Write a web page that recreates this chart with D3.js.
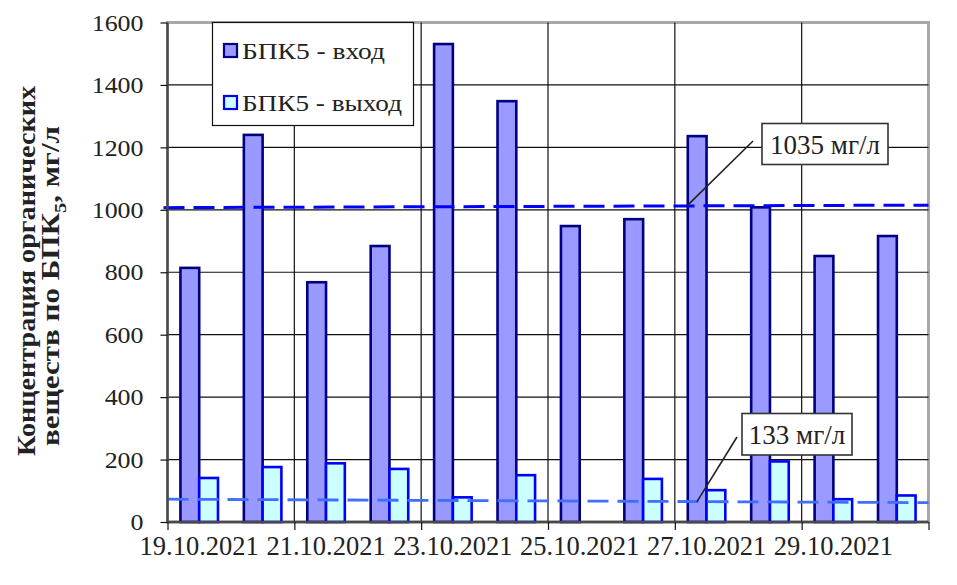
<!DOCTYPE html>
<html><head><meta charset="utf-8">
<script src="https://cdn.jsdelivr.net/npm/d3@7"></script>
<style>
body{margin:0;background:#fff}
svg{display:block}
text{font-family:"Liberation Serif","Times New Roman",Times,serif;fill:#222}
</style>
</head><body>
<svg id="c" width="957" height="585"></svg>
<script>
const dates = ["19.10.2021","20.10.2021","21.10.2021","22.10.2021","23.10.2021","24.10.2021",
               "25.10.2021","26.10.2021","27.10.2021","28.10.2021","29.10.2021","30.10.2021"];
const inputValues  = [814, 1240, 768, 884, 1531, 1348, 948, 970, 1236, 1008, 852, 916];
const outputValues = [141, 176, 188, 170, 79, 150, null, 138, 102, 194, 73, 85];
const yTicks = [0, 200, 400, 600, 800, 1000, 1200, 1400, 1600];
const xTickLabels = ["19.10.2021","21.10.2021","23.10.2021","25.10.2021","27.10.2021","29.10.2021"];
const seriesNames = ["БПК5 - вход", "БПК5 - выход"];
const trendInput  = [1007, 1015];   // values at left / right edge of plot
const trendOutput = [73, 62];
const annotationTexts = ["1035 мг/л", "133 мг/л"];
const yTitleLine1 = "Концентрация органических";
const yTitleLine2 = ["веществ по БПК", "5", ", мг/л"];

const svg = d3.select("#c");
const L = 167.5, R = 928.5, T = 22.5, B = 522;

const x = d3.scaleBand().domain(dates).range([L, R]).padding(0);
const step = x.bandwidth();
const barW = step * 0.296;
const y = d3.scaleLinear().domain([0, 1600]).range([B, T]);
const xi = d3.scaleLinear().domain([0, dates.length]).range([L, R]);

function stretch(sel, k) {
  sel.each(function () {
    const w = this.getComputedTextLength();
    d3.select(this).attr("textLength", w * k).attr("lengthAdjust", "spacingAndGlyphs");
  });
}

// plot border
svg.append("rect").attr("x", L).attr("y", T).attr("width", R - L).attr("height", B - T)
  .attr("fill", "#fff").attr("stroke", "#a8a8a8").attr("stroke-width", 3);

// horizontal gridlines
svg.append("g").selectAll("line").data(yTicks.filter(v => v > 0 && v < 1600)).join("line")
  .attr("x1", L).attr("x2", R).attr("y1", d => y(d)).attr("y2", d => y(d))
  .attr("stroke", "#111").attr("stroke-width", 1.2);

// vertical gridlines every 2 categories
const vIdx = d3.range(2, dates.length, 2);
svg.append("g").selectAll("line").data(vIdx).join("line")
  .attr("x1", d => xi(d)).attr("x2", d => xi(d)).attr("y1", T).attr("y2", B)
  .attr("stroke", "#111").attr("stroke-width", 1.2);

// bars
const g = svg.append("g");
dates.forEach((d, i) => {
  const x0 = x(d) + (step - 2 * barW) / 2;
  g.append("rect").attr("x", x0).attr("y", y(inputValues[i]))
    .attr("width", barW).attr("height", y(0) - y(inputValues[i]))
    .attr("fill", "#9999ff").attr("stroke", "#000080").attr("stroke-width", 2.6);
  if (outputValues[i] != null) {
    g.append("rect").attr("x", x0 + barW).attr("y", y(outputValues[i]))
      .attr("width", barW).attr("height", y(0) - y(outputValues[i]))
      .attr("fill", "#ccffff").attr("stroke", "#0000ff").attr("stroke-width", 2.6);
  }
});

// trend lines
svg.append("line").attr("x1", L - 4).attr("x2", R).attr("y1", y(trendInput[0])).attr("y2", y(trendInput[1]))
  .attr("stroke", "#0000ff").attr("stroke-width", 3).attr("stroke-dasharray", "21,9");
svg.append("line").attr("x1", L).attr("x2", R).attr("y1", y(trendOutput[0])).attr("y2", y(trendOutput[1]))
  .attr("stroke", "#3f6fff").attr("stroke-width", 2.8).attr("stroke-dasharray", "21,9");

// axes lines
svg.append("line").attr("x1", L).attr("x2", L).attr("y1", T).attr("y2", B)
  .attr("stroke", "#4a4a4a").attr("stroke-width", 2.4);
svg.append("line").attr("x1", L).attr("x2", R).attr("y1", B).attr("y2", B)
  .attr("stroke", "#4a4a4a").attr("stroke-width", 2.4);

// y axis
const ya = svg.append("g").attr("transform", `translate(${L},0)`)
  .call(d3.axisLeft(y).tickValues(yTicks).tickSize(7).tickPadding(17).tickFormat(d3.format("d")));
ya.select(".domain").remove();
ya.attr("font-family", null);
ya.selectAll(".tick line").attr("stroke", "#111").attr("stroke-width", 1.2);
ya.selectAll(".tick text").attr("font-size", 24).attr("fill", "#222");
stretch(ya.selectAll(".tick text"), 1.08);

// x axis ticks every 2 categories
const xa = svg.append("g").attr("transform", `translate(0,${B})`)
  .call(d3.axisBottom(xi).tickValues(d3.range(0, dates.length + 1, 2)).tickSize(8).tickFormat(""));
xa.select(".domain").remove();
xa.selectAll(".tick line").attr("stroke", "#111").attr("stroke-width", 1.2);
// x labels at category centers
const xl = svg.append("g").attr("transform", `translate(0,${B})`)
  .call(d3.axisBottom(x).tickValues(xTickLabels).tickSize(0).tickPadding(28));
xl.select(".domain").remove();
xl.attr("font-family", null);
xl.selectAll(".tick text").attr("font-size", 26.5).attr("fill", "#222").attr("dy", "0.2em");

// legend
const lg = svg.append("g");
lg.append("rect").attr("x", 212.5).attr("y", T).attr("width", 201).attr("height", 103)
  .attr("fill", "#fff").attr("stroke", "#111").attr("stroke-width", 1.2);
const legendFill = ["#9999ff", "#ccffff"], legendStroke = ["#000080", "#0000ff"];
const legendLen = [143, 160];
seriesNames.forEach((s, i) => {
  const cy = 50.5 + i * 52;
  lg.append("rect").attr("x", 224).attr("y", cy - 6.5).attr("width", 13).attr("height", 13)
    .attr("fill", legendFill[i]).attr("stroke", legendStroke[i]).attr("stroke-width", 2.2);
  lg.append("text").attr("x", 242).attr("y", cy + 8).attr("font-size", 23.5)
    .attr("textLength", legendLen[i]).attr("lengthAdjust", "spacingAndGlyphs").text(s);
});

// annotations
function annot(bx, by, bw, bh, txt, lx1, ly1, lx2, ly2) {
  svg.append("line").attr("x1", lx1).attr("y1", ly1).attr("x2", lx2).attr("y2", ly2)
    .attr("stroke", "#222").attr("stroke-width", 1.6);
  svg.append("rect").attr("x", bx).attr("y", by).attr("width", bw).attr("height", bh)
    .attr("fill", "#fff").attr("stroke", "#333").attr("stroke-width", 1.6);
  svg.append("text").attr("x", bx + bw / 2).attr("y", by + bh / 2 + 9.5).attr("text-anchor", "middle")
    .attr("font-size", 27).text(txt);
}
const trendAt = (tr, px) => y(tr[0] + (tr[1] - tr[0]) * (px - L) / (R - L));
annot(762, 123.5, 126, 41, annotationTexts[0], 753, 141, 687, trendAt(trendInput, 687));
annot(742, 413.5, 110, 41.5, annotationTexts[1], 737, 437, 697, trendAt(trendOutput, 697));

// y title
svg.append("text").attr("transform", "translate(35,271) rotate(-90)")
  .attr("text-anchor", "middle").attr("font-size", 26).attr("font-weight", "bold").attr("fill", "#111")
  .attr("textLength", 370).attr("lengthAdjust", "spacingAndGlyphs")
  .text(yTitleLine1);
const t2 = svg.append("text").attr("transform", "translate(59,286) rotate(-90)")
  .attr("text-anchor", "middle").attr("font-size", 26).attr("font-weight", "bold").attr("fill", "#111")
  .attr("textLength", 320).attr("lengthAdjust", "spacingAndGlyphs");
t2.append("tspan").text(yTitleLine2[0]);
t2.append("tspan").attr("font-size", 17).attr("dy", 7).text(yTitleLine2[1]);
t2.append("tspan").attr("dy", -7).text(yTitleLine2[2]);
</script>
</body></html>
